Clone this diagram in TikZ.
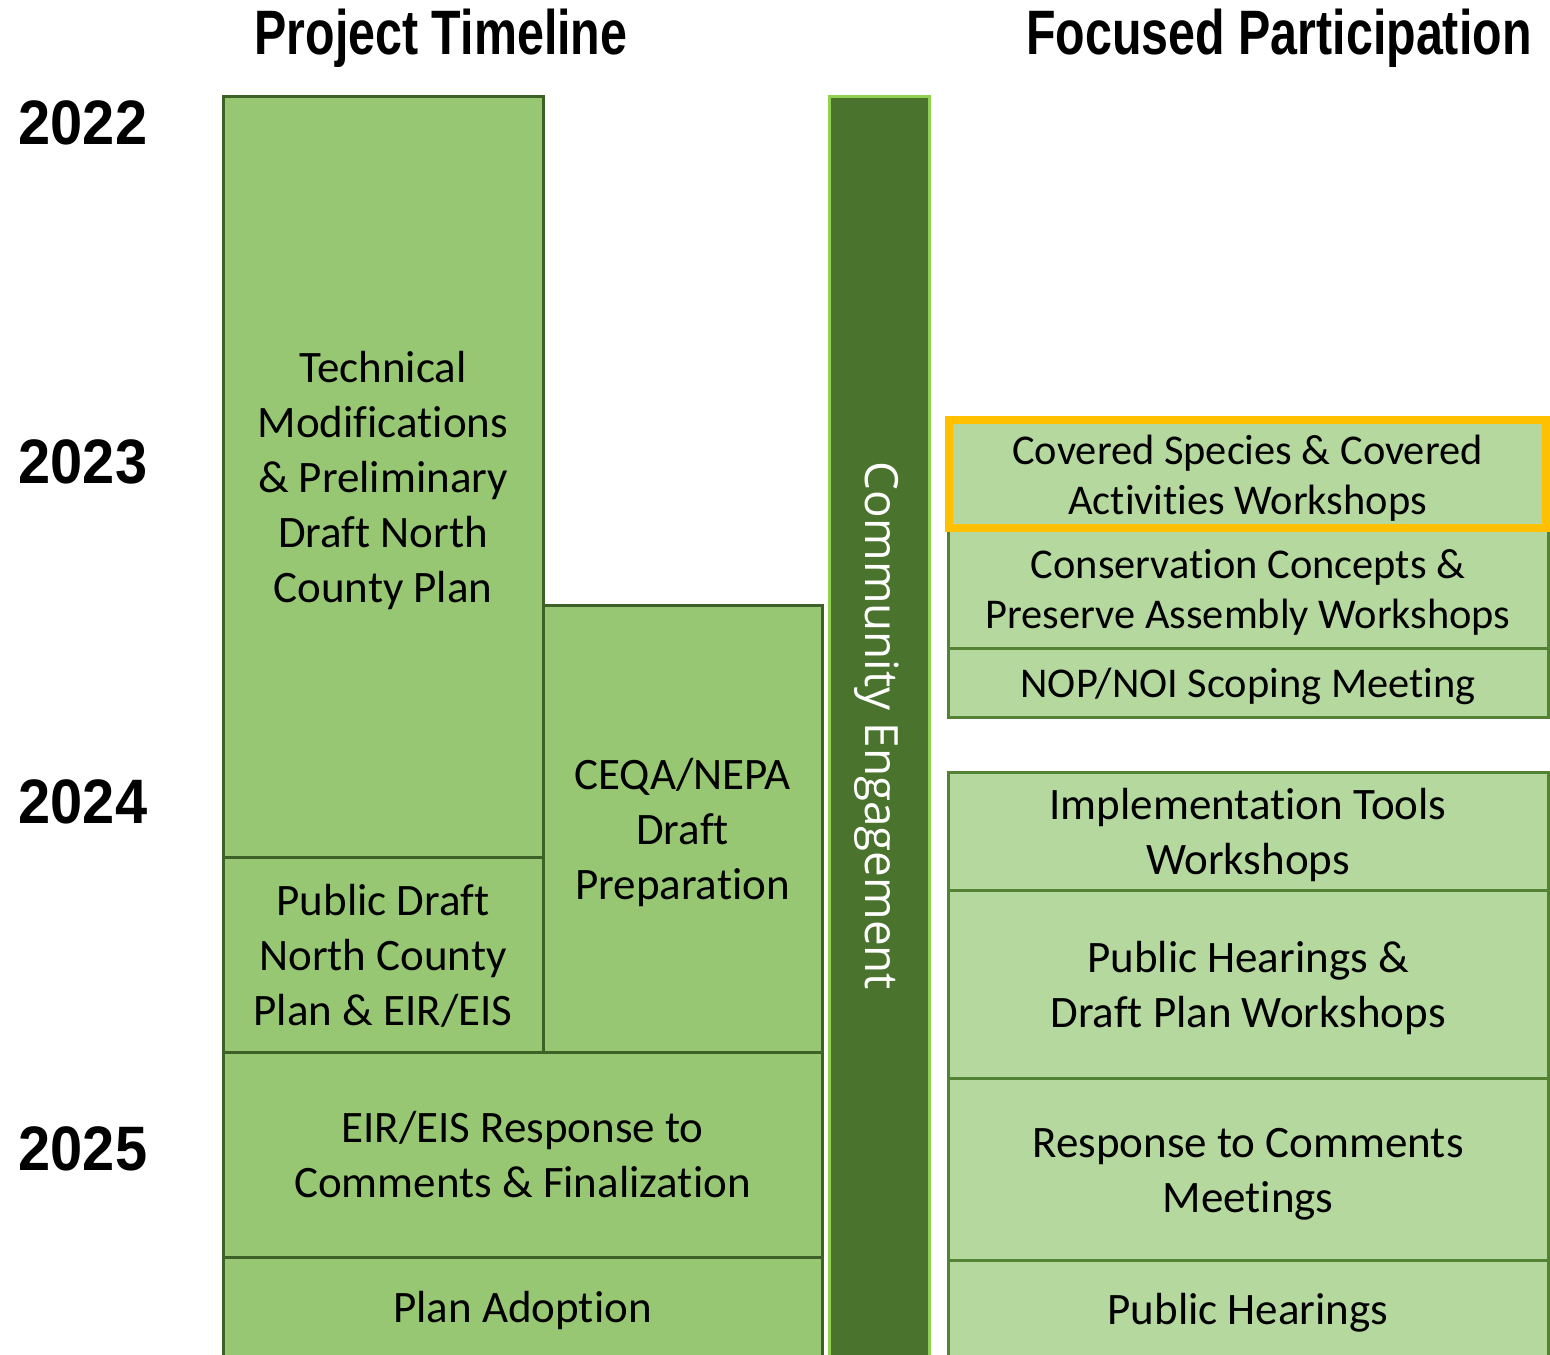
\documentclass[tikz,border=0pt]{standalone}
\usepackage{fontspec}
\setmainfont[Ligatures=NoCommon]{Carlito}
\newfontfamily\headfont[FakeStretch=0.77]{Liberation Sans}
\newfontfamily\yearfont[FakeStretch=0.92]{Liberation Sans}
\newfontfamily\barfont{Open Sans}
\usepackage{tikz}
\usetikzlibrary{positioning}

\definecolor{tlfill}{HTML}{98C774}
\definecolor{tlline}{HTML}{3D6126}
\definecolor{fpfill}{HTML}{B5D89E}
\definecolor{fpline}{HTML}{548235}
\definecolor{barfill}{HTML}{4A742D}
\definecolor{barline}{HTML}{92D050}
\definecolor{hilite}{HTML}{FFC000}

% first line of a box gets a fixed ascent
\newcommand{\topln}{\rule{0pt}{0.95em}}

\begin{document}
\begin{tikzpicture}[x=0.5pt, y=-0.5pt,
    boxtext/.style={align=center, inner sep=0pt, outer sep=0pt,
      execute at end node={\rule[-0.24em]{0pt}{0pt}}},
    tlbox/.style={boxtext, draw=tlline, fill=tlfill, line width=1.5pt, anchor=north west,
      font=\fontsize{22.5}{27.5}\selectfont},
    fpbox/.style={boxtext, draw=fpline, fill=fpfill, line width=1.5pt, anchor=north west,
      minimum width=300pt, font=\fontsize{22.5}{27.5}\selectfont},
    fpsmall/.style={font=\fontsize{21.2}{25}\selectfont},
    head/.style={anchor=base, font=\headfont\bfseries\fontsize{31.4}{34}\selectfont},
    year/.style={anchor=base, font=\yearfont\bfseries\fontsize{31.4}{34}\selectfont}]
  \useasboundingbox (0,0) rectangle (1550,1354);
  \clip (0,0) rectangle (1550,1354);

  % Headings
  \node[head] (hdtime) at (441,55) {Project Timeline};
  \node[head] (hdpart) at (1279,55) {Focused Participation};

  % Years
  \node[year] (y22) at (83,144) {2022};
  \node[year] (y23) at (83,483) {2023};
  \node[year] (y24) at (83,823) {2024};
  \node[year] (y25) at (83,1170) {2025};

  % Project timeline blocks
  \node[tlbox, minimum width=160pt, minimum height=380pt] (tech) at (223,97)
    {\topln Technical\\Modifications\\\& Preliminary\\Draft North\\County Plan};
  \node[tlbox, minimum width=139.5pt, minimum height=223.5pt] (ceqa) at (543,605)
    {\topln CEQA/NEPA\\Draft\\Preparation};
  \node[tlbox, minimum width=160pt, minimum height=97.5pt] (pubdraft) at (223,857)
    {\topln Public Draft\\North County\\Plan \& EIR/EIS};
  \node[tlbox, minimum width=299.5pt, minimum height=102.5pt] (eirresp) at (223,1052)
    {\topln EIR/EIS Response to\\Comments \& Finalization};
  \node[tlbox, minimum width=299.5pt, minimum height=50pt] (adopt) at (223,1257)
    {\topln Plan Adoption};

  % Community engagement bar
  \node[draw=barline, fill=barfill, line width=1.5pt, anchor=north west,
    inner sep=0pt, minimum width=50pt, minimum height=650pt] (commbar) at (828,95) {};
  \node[rotate=-90, text=white, font=\barfont\fontsize{22.9}{27}\selectfont]
    (commtext) at (877,726) {Community Engagement};

  % Focused participation blocks
  \node[fpbox, fpsmall, minimum height=60pt] (consv) at (948,528)
    {\topln Conservation Concepts \&\\Preserve Assembly Workshops};
  \node[fpbox, fpsmall, minimum height=34.5pt] (nop) at (948,648)
    {\topln NOP/NOI Scoping Meeting};
  \node[fpbox, fpsmall, draw=hilite, line width=4pt, minimum width=298.5pt,
    minimum height=54pt] (covsp) at (949,420)
    {\topln Covered Species \& Covered\\Activities Workshops};
  \node[fpbox, minimum height=59pt] (impl) at (948,772)
    {\topln Implementation Tools\\Workshops};
  \node[fpbox, minimum height=94pt] (hearws) at (948,890)
    {\topln Public Hearings \&\\Draft Plan Workshops};
  \node[fpbox, minimum height=91pt] (rtc) at (948,1078)
    {\topln Response to Comments\\Meetings};
  \node[fpbox, minimum height=49pt] (pubhear) at (948,1260)
    {\topln Public Hearings};
\end{tikzpicture}
\end{document}
